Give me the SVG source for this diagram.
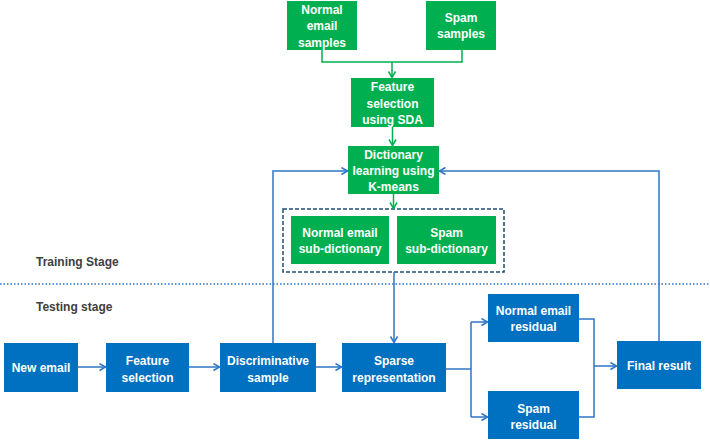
<svg xmlns="http://www.w3.org/2000/svg" width="710" height="440" viewBox="0 0 710 440">
<style>
.g{fill:#00B050}
.b{fill:#0070C0}
.t{font-family:"Liberation Sans",Arial,sans-serif;font-weight:bold;font-size:12px;fill:#fff;text-anchor:middle}
.lbl{font-family:"Liberation Sans",Arial,sans-serif;font-weight:bold;font-size:12px;fill:#404040}
.cg{fill:none;stroke:#00B050;stroke-width:1.5}
.cb{fill:none;stroke:#2E75C6;stroke-width:1.5}
</style>
<defs>
<marker id="ag" markerUnits="userSpaceOnUse" markerWidth="10" markerHeight="10" refX="7" refY="4" orient="auto"><path d="M1,0.5 L7,4 L1,7.5" fill="none" stroke="#00B050" stroke-width="1.5"/></marker>
<marker id="ab" markerUnits="userSpaceOnUse" markerWidth="10" markerHeight="10" refX="7" refY="4" orient="auto"><path d="M1,0.5 L7,4 L1,7.5" fill="none" stroke="#2E75C6" stroke-width="1.5"/></marker>
</defs>
<rect width="710" height="440" fill="#fff"/>
<text class="lbl" x="36" y="266">Training Stage</text>
<line x1="0" y1="284" x2="710" y2="284" stroke="#2E75C6" stroke-width="1.5" stroke-dasharray="1.5,2"/>
<text class="lbl" x="36" y="311">Testing stage</text>
<rect x="283" y="209" width="221" height="63" fill="none" stroke="#1F4E79" stroke-width="1.5" stroke-dasharray="4,2"/>
<g id="connectors">
<path class="cg" d="M322,50 V62 H462 V50"/>
<path class="cg" d="M392,62 V77.5" marker-end="url(#ag)"/>
<path class="cg" d="M392.5,127 V145.5" marker-end="url(#ag)"/>
<path class="cg" d="M393.5,194 V208.5" marker-end="url(#ag)"/>
<path class="cb" d="M394,272 V342.5" marker-end="url(#ab)"/>
<path class="cb" d="M78,367 H105.5" marker-end="url(#ab)"/>
<path class="cb" d="M189,367 H219.5" marker-end="url(#ab)"/>
<path class="cb" d="M316,367 H341.5" marker-end="url(#ab)"/>
<path class="cb" d="M273,343 V171 H347.5" marker-end="url(#ab)"/>
<path class="cb" d="M659,341 V171 H439.5" marker-end="url(#ab)"/>
<path class="cb" d="M446,369 H471"/>
<path class="cb" d="M471,322 V417"/>
<path class="cb" d="M471,322 H487.5" marker-end="url(#ab)"/>
<path class="cb" d="M471,417 H487.5" marker-end="url(#ab)"/>
<path class="cb" d="M579,319 H594 V417 H579"/>
<path class="cb" d="M594,366 H616.5" marker-end="url(#ab)"/>
</g>
<g id="normal-samples"><rect class="g" x="287" y="1" width="70" height="49"/><text class="t" x="322" y="13.5">Normal</text><text class="t" x="322" y="30">email</text><text class="t" x="322" y="46.5">samples</text></g>
<g id="spam-samples"><rect class="g" x="426" y="1" width="70" height="49"/><text class="t" x="461" y="22">Spam</text><text class="t" x="461" y="38">samples</text></g>
<g id="feature-sda"><rect class="g" x="351" y="78" width="83" height="49"/><text class="t" x="392.5" y="91">Feature</text><text class="t" x="392.5" y="107.5">selection</text><text class="t" x="392.5" y="124">using SDA</text></g>
<g id="dictionary"><rect class="g" x="348" y="146" width="91" height="48"/><text class="t" x="393.5" y="159">Dictionary</text><text class="t" x="393.5" y="175">learning using</text><text class="t" x="393.5" y="191">K-means</text></g>
<g id="normal-subdict"><rect class="g" x="291" y="216" width="98" height="48"/><text class="t" x="340" y="236.5">Normal email</text><text class="t" x="340" y="252.5">sub-dictionary</text></g>
<g id="spam-subdict"><rect class="g" x="397" y="216" width="99" height="48"/><text class="t" x="446.5" y="236.5">Spam</text><text class="t" x="446.5" y="252.5">sub-dictionary</text></g>
<g id="new-email"><rect class="b" x="4" y="343" width="74" height="49"/><text class="t" x="41" y="372">New email</text></g>
<g id="feature-selection"><rect class="b" x="106" y="343" width="83" height="49"/><text class="t" x="147.5" y="364.5">Feature</text><text class="t" x="147.5" y="381.5">selection</text></g>
<g id="discriminative"><rect class="b" x="220" y="343" width="96" height="49"/><text class="t" x="268" y="364.5">Discriminative</text><text class="t" x="268" y="381.5">sample</text></g>
<g id="sparse"><rect class="b" x="342" y="343" width="104" height="49"/><text class="t" x="394" y="364.5">Sparse</text><text class="t" x="394" y="381.5">representation</text></g>
<g id="normal-residual"><rect class="b" x="488" y="294" width="91" height="48"/><text class="t" x="533.5" y="314.5">Normal email</text><text class="t" x="533.5" y="331">residual</text></g>
<g id="spam-residual"><rect class="b" x="488" y="391" width="91" height="48"/><text class="t" x="533.5" y="412.5">Spam</text><text class="t" x="533.5" y="428.5">residual</text></g>
<g id="final-result"><rect class="b" x="617" y="341" width="84" height="48"/><text class="t" x="659" y="369.5">Final result</text></g>
</svg>
